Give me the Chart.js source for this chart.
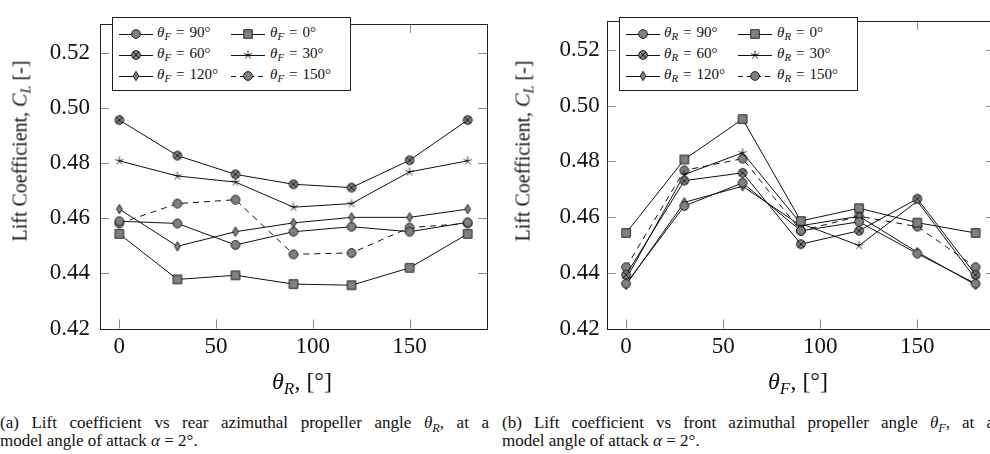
<!DOCTYPE html>
<html>
<head>
<meta charset="utf-8">
<script src="https://cdn.jsdelivr.net/npm/chart.js@4.4.0/dist/chart.umd.min.js"></script>
<style>
  body { margin: 0; width: 990px; height: 454px; overflow: hidden; position: relative; background: #fff;
         font-family: "Liberation Serif", serif; color: #111; }
  canvas.plot { position: absolute; top: 0; }
  #chartRear { left: 0; }
  #chartFront { left: 500px; }
  .ytitle { position: absolute; font-size: 20px; white-space: nowrap; transform: translate(-50%, -50%) rotate(-90deg); }
  .xtitle { position: absolute; font-size: 24px; white-space: nowrap; transform: translate(-50%, -50%); }
  sub { font-size: 72%; vertical-align: -0.3em; line-height: 0; }
  .legend { position: absolute; top: 17px; height: 72px; border: 1px solid #222; background: #fff; }
  .legend .item { position: absolute; height: 16px; }
  .legend canvas { position: absolute; left: 0; top: 2px; }
  .legend span.lbl { position: absolute; top: -2px; font-size: 15px; white-space: nowrap; }
  .eq { margin: 0 5px; }
  .caption { position: absolute; top: 414px; width: 489px; font-size: 17px; line-height: 18px; }
  .caption .l1 { text-align: justify; text-align-last: justify; white-space: nowrap; }
</style>
</head>
<body>
<canvas id="chartRear" class="plot" width="500" height="400"></canvas>
<canvas id="chartFront" class="plot" width="510" height="400"></canvas>

<div class="ytitle" style="left:20px;top:151px">Lift Coefficient, <i>C</i><sub><i>L</i></sub> [-]</div>
<div class="ytitle" style="left:523px;top:151px">Lift Coefficient, <i>C</i><sub><i>L</i></sub> [-]</div>
<div class="xtitle" style="left:302px;top:381px"><i>θ</i><sub><i>R</i></sub>, [°]</div>
<div class="xtitle" style="left:798px;top:381px"><i>θ</i><sub><i>F</i></sub>, [°]</div>

<div class="legend" id="legendRear" style="left:112px;width:237px"></div>
<div class="legend" id="legendFront" style="left:619px;width:237px"></div>

<div class="caption" style="left:0">
  <div class="l1">(a) Lift coefficient vs rear azimuthal propeller angle <i>θ</i><sub><i>R</i></sub>, at a</div>
  <div>model angle of attack <i>α</i> = 2°.</div>
</div>
<div class="caption" style="left:502px;width:492px">
  <div class="l1">(b) Lift coefficient vs front azimuthal propeller angle <i>θ</i><sub><i>F</i></sub>, at a</div>
  <div>model angle of attack <i>α</i> = 2°.</div>
</div>

<script>
const angles = [0, 30, 60, 90, 120, 150, 180];
const xTicks = [0, 50, 100, 150];
const yTicks = [0.42, 0.44, 0.46, 0.48, 0.50, 0.52];

// series order as in the legend
const seriesAngles = [90, 0, 60, 30, 120, 150];
const markers = ["circle", "square", "xcircle", "star", "diamond", "circle"];
const dashed = [false, false, false, false, false, true];

// (a) C_L vs rear angle, one line per front angle
const clF90  = [0.4589, 0.4581, 0.4503, 0.4551, 0.4569, 0.4551, 0.4585];
const clF0   = [0.4543, 0.4378, 0.4393, 0.4361, 0.4357, 0.4420, 0.4543];
const clF60  = [0.4956, 0.4827, 0.4759, 0.4723, 0.4711, 0.4810, 0.4956];
const clF30  = [0.4808, 0.4753, 0.4731, 0.4640, 0.4653, 0.4768, 0.4808];
const clF120 = [0.4633, 0.4498, 0.4551, 0.4583, 0.4603, 0.4603, 0.4633];
const clF150 = [0.4581, 0.4653, 0.4667, 0.4469, 0.4474, 0.4566, 0.4581];

// (b) C_L vs front angle, one line per rear angle
const clR90  = [0.4361, 0.4640, 0.4723, 0.4551, 0.4583, 0.4469, 0.4361];
const clR0   = [0.4543, 0.4807, 0.4952, 0.4586, 0.4632, 0.4580, 0.4543];
const clR60  = [0.4393, 0.4731, 0.4759, 0.4503, 0.4551, 0.4666, 0.4393];
const clR30  = [0.4378, 0.4753, 0.4831, 0.4577, 0.4498, 0.4657, 0.4378];
const clR120 = [0.4357, 0.4653, 0.4711, 0.4569, 0.4603, 0.4474, 0.4357];
const clR150 = [0.4420, 0.4768, 0.4810, 0.4551, 0.4603, 0.4566, 0.4420];

const rearPlotSeries = [clF90, clF0, clF60, clF30, clF120, clF150];
const frontPlotSeries = [clR90, clR0, clR60, clR30, clR120, clR150];

const lineColor = "#111";
const markerFill = "#808080";
const tickFont = { family: "'Liberation Serif', 'Times New Roman', serif", size: 23 };

function makeMarker(kind) {
  const c = document.createElement("canvas");
  c.width = 14; c.height = 14;
  const g = c.getContext("2d");
  g.translate(7, 7);
  g.fillStyle = markerFill;
  g.strokeStyle = "#000";
  g.lineWidth = 0.8;
  g.beginPath();
  if (kind === "circle" || kind === "xcircle") g.arc(0, 0, 4.4, 0, Math.PI * 2);
  else if (kind === "square") g.rect(-4.3, -4.3, 8.6, 8.6);
  else if (kind === "diamond") {
    g.moveTo(0, -4.7); g.lineTo(2.9, 0); g.lineTo(0, 4.7); g.lineTo(-2.9, 0); g.closePath();
  }
  if (kind !== "star") { g.fill(); g.stroke(); }
  if (kind === "xcircle") {
    const d = 3.1;
    g.beginPath();
    g.moveTo(-d, -d); g.lineTo(d, d);
    g.moveTo(d, -d); g.lineTo(-d, d);
    g.stroke();
  }
  if (kind === "star") {
    g.beginPath();
    for (let k = 0; k < 5; k++) {
      const a = -Math.PI / 2 + k * 2 * Math.PI / 5;
      g.moveTo(0, 0);
      g.lineTo(4.4 * Math.cos(a), 4.4 * Math.sin(a));
    }
    g.stroke();
  }
  return c;
}

const markerImages = markers.map(makeMarker);

// frame + inward ticks on all four sides
const framePlugin = {
  id: "frame",
  afterDraw(chart) {
    const { ctx, chartArea: a, scales: { x, y } } = chart;
    ctx.save();
    ctx.strokeStyle = "#8a8a8a";
    ctx.lineWidth = 1;
    ctx.beginPath();
    xTicks.forEach((v) => {
      const px = Math.round(x.getPixelForValue(v)) + 0.5;
      ctx.moveTo(px, a.top); ctx.lineTo(px, a.top + 9);
      ctx.moveTo(px, a.bottom); ctx.lineTo(px, a.bottom - 9);
    });
    yTicks.forEach((v) => {
      const py = Math.round(y.getPixelForValue(v)) + 0.5;
      ctx.moveTo(a.left, py); ctx.lineTo(a.left + 9, py);
      ctx.moveTo(a.right, py); ctx.lineTo(a.right - 9, py);
    });
    ctx.stroke();
    ctx.strokeStyle = "#222";
    ctx.strokeRect(Math.round(a.left) + 0.5, Math.round(a.top) + 0.5,
                   Math.round(a.right - a.left), Math.round(a.bottom - a.top));
    ctx.restore();
  }
};

function buildChart(id, seriesList, yAxisWidth, rightPad, tickPad) {
  const datasets = seriesList.map((vals, i) => ({
    data: angles.map((a, j) => ({ x: a, y: vals[j] })),
    borderColor: lineColor,
    borderWidth: 1,
    borderDash: dashed[i] ? [6, 5] : [],
    pointStyle: markerImages[i],
    pointRadius: 5,
    tension: 0,
    fill: false
  }));

  return new Chart(document.getElementById(id), {
    type: "line",
    data: { datasets },
    options: {
      responsive: false,
      animation: false,
      events: [],
      clip: false,
      layout: { padding: { top: 5, right: rightPad, left: 0, bottom: 0 } },
      plugins: { legend: { display: false }, tooltip: { enabled: false } },
      scales: {
        x: {
          type: "linear",
          min: -10,
          max: 190,
          afterBuildTicks: (s) => { s.ticks = xTicks.map((v) => ({ value: v })); },
          afterFit: (s) => { s.height = 71.5; },
          grid: { display: false, drawTicks: false },
          border: { display: false },
          ticks: { padding: 5, color: "#111", font: tickFont, maxRotation: 0 }
        },
        y: {
          min: 0.42,
          max: 0.5305,
          afterBuildTicks: (s) => { s.ticks = yTicks.map((v) => ({ value: v })); },
          afterFit: (s) => { s.width = yAxisWidth; },
          grid: { display: false, drawTicks: false },
          border: { display: false },
          ticks: { padding: tickPad, color: "#111", font: tickFont, callback: (v) => v.toFixed(2) }
        }
      }
    },
    plugins: [framePlugin]
  });
}

function buildLegend(id, letter) {
  const box = document.getElementById(id);
  const rowsY = [8, 29, 50];
  const colX = [6, 118];
  const textX = [44, 157];
  seriesAngles.forEach((ang, i) => {
    const row = Math.floor(i / 2), col = i % 2;
    const item = document.createElement("div");
    item.className = "item";
    item.style.left = colX[col] + "px";
    item.style.top = rowsY[row] + "px";

    const c = document.createElement("canvas");
    c.width = 34; c.height = 12;
    const g = c.getContext("2d");
    g.strokeStyle = lineColor;
    g.lineWidth = 1;
    if (dashed[i]) g.setLineDash([5, 4]);
    g.beginPath(); g.moveTo(0, 6.5); g.lineTo(34, 6.5); g.stroke();
    g.drawImage(markerImages[i], 17 - 7, 6 - 7);
    item.appendChild(c);

    const lbl = document.createElement("span");
    lbl.className = "lbl";
    lbl.style.left = (textX[col] - colX[col]) + "px";
    lbl.innerHTML = `<i>θ</i><sub><i>${letter}</i></sub><span class="eq">=</span>${ang}°`;
    item.appendChild(lbl);
    box.appendChild(item);
  });
}

buildLegend("legendRear", "F");
buildLegend("legendFront", "R");

// make sure the serif face is ready before the canvas draws its tick labels
document.fonts.load("23px 'Liberation Serif'").finally(() => {
  buildChart("chartRear", rearPlotSeries, 100, 13, 10);
  buildChart("chartFront", frontPlotSeries, 106.7, 15, 7);
});
</script>
</body>
</html>
